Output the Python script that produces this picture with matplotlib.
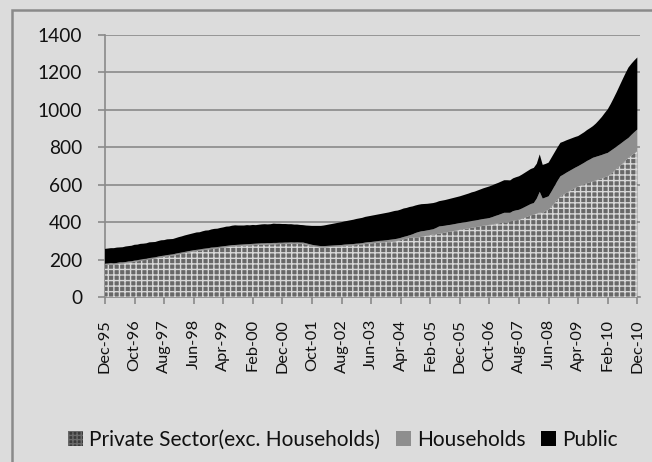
import numpy as np
import pandas as pd
import matplotlib
matplotlib.use("Agg")
import matplotlib.pyplot as plt
from matplotlib.patches import Patch, Rectangle

plt.rcParams['font.family'] = ['Lato', 'DejaVu Sans']
plt.rcParams['hatch.linewidth'] = 1.0

months = pd.date_range("1995-12-01", "2010-12-01", freq="MS").strftime("%b-%y").tolist()

tick_labels = ["Dec-95", "Oct-96", "Aug-97", "Jun-98", "Apr-99", "Feb-00", "Dec-00",
               "Oct-01", "Aug-02", "Jun-03", "Apr-04", "Feb-05", "Dec-05", "Oct-06",
               "Aug-07", "Jun-08", "Apr-09", "Feb-10", "Dec-10"]

private = [172, 173, 175, 174, 176, 178, 179, 181, 183, 185, 189,
           191, 193, 196, 198, 201, 203, 206, 209, 212, 214, 217, 219, 222, 225,
           228, 231, 234, 237, 240, 243,
           245, 247, 250, 252, 254, 256, 258, 260, 262, 264, 266, 268, 270,
           271, 272, 273, 274, 275, 276, 277, 278, 279,
           280, 280, 281, 281, 282, 282,
           283, 283, 284, 284, 285, 284, 285, 284, 284,
           280, 276, 272, 269, 267, 265, 265,
           266, 267, 268, 269, 270, 271, 273,
           274, 275, 276, 278, 279,
           281, 283, 285, 286, 288, 290,
           291, 292, 293, 295, 296, 297,
           300, 304, 308, 312, 316,
           317, 318, 318,
           322, 325, 328, 331, 334,
           336, 338,
           341, 344, 347, 350, 353, 356, 359,
           362, 364, 367, 370, 372, 375, 378, 381, 383, 386,
           388, 391, 393, 396, 399, 395, 404,
           407, 410, 413,
           418, 424, 430, 436, 440,
           446, 452, 448, 460, 466,
           484, 502, 520, 538,
           547, 556, 565, 574, 583, 591,
           597, 602, 608, 613, 618,
           623, 629, 634, 640, 645,
           658, 671, 685, 699,
           714, 729, 744,
           756, 768, 779]

households = [6, 6, 7, 6, 6, 7, 6, 6, 7, 6,
              6, 6, 7, 7, 6, 7, 7, 6, 7, 7,
              7, 7, 7, 6, 7, 7, 7, 7, 7, 7,
              7, 7, 7, 7, 7, 7, 8, 7, 7, 7,
              7, 7, 7, 7, 7, 7, 7, 7, 7, 7,
              7, 7, 7, 7, 7, 7, 7, 7, 7, 7,
              7, 7, 7, 7, 7, 7, 7, 7, 7, 7,
              7, 7, 7, 7, 7, 7, 7, 7, 7, 7,
              7, 7, 7, 7, 7, 7, 7, 7, 8, 8,
              8, 8, 8, 9, 9, 10, 10, 11, 12, 12,
              12, 13, 13, 14, 18, 24, 29, 29, 28, 28,
              28, 28, 33, 39, 38, 37, 37, 36, 36, 36,
              36, 36, 36, 36, 36, 36, 36, 36, 36, 36,
              36, 39, 42, 45, 48, 51, 55, 46, 52, 53,
              53, 55, 57, 59, 61, 62, 80, 110, 78, 72,
              72, 80, 90, 100, 107, 107, 108, 108, 108, 108,
              108, 111, 115, 119, 122, 126, 126, 125, 125, 125,
              125, 123, 121, 119, 116, 113, 110, 106, 110, 113,
              116]

public = [79, 80, 79, 81, 82, 80, 81, 83, 82, 83,
          84, 83, 84, 82, 83, 84, 83, 82, 83, 84,
          83, 84, 83, 82, 83, 85, 86, 88, 89, 90,
          91, 93, 92, 94, 96, 95, 97, 99, 98, 100,
          101, 103, 102, 104, 105, 103, 102, 101, 102, 100,
          101, 99, 100, 101, 102, 100, 101, 103, 102, 101,
          100, 99, 98, 97, 96, 95, 94, 93, 95, 98,
          101, 104, 106, 108, 110, 112, 114, 116, 118, 120,
          122, 124, 126, 128, 130, 132, 134, 135, 137, 138,
          140, 141, 142, 143, 145, 146, 147, 149, 151, 150,
          151, 152, 151, 151, 149, 147, 146, 145, 144, 142,
          141, 140, 137, 135, 136, 137, 138, 140, 141, 142,
          143, 145, 148, 150, 153, 155, 158, 161, 164, 167,
          169, 170, 171, 172, 173, 174, 174, 173, 175, 177,
          179, 181, 183, 185, 187, 188, 186, 200, 180, 179,
          180, 181, 180, 179, 179, 176, 173, 170, 167, 164,
          161, 162, 163, 165, 167, 169, 178, 190, 203, 218,
          233, 250, 270, 290, 313, 335, 356, 376, 380, 383,
          385]

BG = '#dcdcdc'
GRID = '#8a8a8a'
x = np.arange(len(months))
p = np.array(private, dtype=float)
h = p + np.array(households, dtype=float)
t = h + np.array(public, dtype=float)

fig = plt.figure(figsize=(6.52, 4.62), dpi=100, facecolor=BG)
ax = fig.add_axes([105/652, 1 - 297/462, (640-105)/652, (297-35)/462])
ax.set_facecolor(BG)

ax.fill_between(x, 0, p, facecolor='#686868', edgecolor='#d8d8d8', hatch='+++', linewidth=0, zorder=3)
ax.fill_between(x, p, h, facecolor='#8e8e8e', linewidth=0, zorder=3)
ax.fill_between(x, h, t, facecolor='#000000', linewidth=0, zorder=3)

ax.set_xlim(0, 180.9)
ax.set_ylim(0, 1400)
ax.set_yticks(range(0, 1401, 200))
ax.yaxis.grid(True, color=GRID, linewidth=1.2, zorder=0)
ax.set_axisbelow(True)
ax.set_xticks(list(range(0, 181, 10)))
ax.set_xticklabels(tick_labels, rotation=90, fontsize=11.8, color='#111111')
ax.tick_params(axis='y', labelsize=13.8, length=5, color=GRID, width=1.2, pad=11.5,
               labelcolor='#111111')
ax.tick_params(axis='x', length=5, color=GRID, width=1.2, pad=11)
for s in ['top', 'right']:
    ax.spines[s].set_visible(False)
for s in ['left', 'bottom']:
    ax.spines[s].set_color(GRID)
    ax.spines[s].set_linewidth(1.2)

handles = [Patch(facecolor='#3a3a3a', edgecolor='#6a6a6a', hatch='++++', linewidth=0),
           Patch(facecolor='#8e8e8e', linewidth=0),
           Patch(facecolor='#000000', linewidth=0)]
fig.legend(handles, ['Private Sector(exc. Households)', 'Households', 'Public'],
           loc='center', bbox_to_anchor=(343/652, 1 - 440/462), ncol=3, frameon=False,
           fontsize=15, handlelength=0.7, handleheight=0.7, handletextpad=0.3,
           columnspacing=0.75, labelcolor='#111111')

fig.patches.append(Rectangle((12/652, -0.1), 1.0, 1 - 10/462 + 0.1, transform=fig.transFigure,
                             fill=False, edgecolor=GRID, linewidth=1.8))

fig.savefig('out.png', dpi=100, facecolor=BG)
